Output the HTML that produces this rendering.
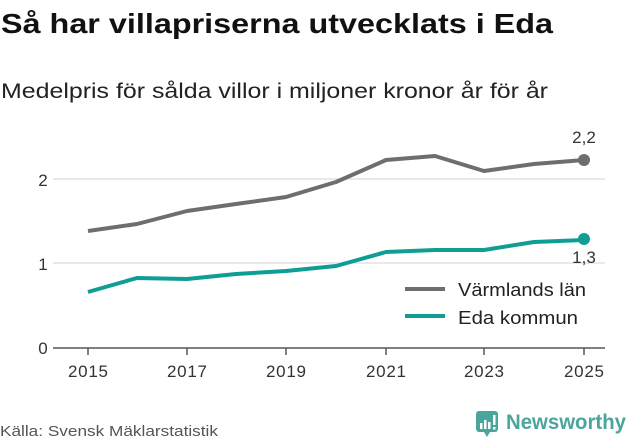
<!DOCTYPE html>
<html><head><meta charset="utf-8"><style>html,body{margin:0;padding:0;background:#fff}svg{display:block}</style></head>
<body>
<svg width="631" height="439" xmlns="http://www.w3.org/2000/svg" font-family="'Liberation Sans', 'DejaVu Sans', sans-serif">
<text x="1" y="33" font-size="28" font-weight="bold" fill="#111" textLength="552" lengthAdjust="spacingAndGlyphs">Så har villapriserna utvecklats i Eda</text>
<text x="1" y="98" font-size="21" fill="#222" textLength="547" lengthAdjust="spacingAndGlyphs">Medelpris för sålda villor i miljoner kronor år för år</text>
<g stroke="#e2e2e2" stroke-width="1.5">
<line x1="53" y1="179" x2="605" y2="179"/><line x1="53" y1="263" x2="605" y2="263"/>
</g>
<line x1="53" y1="348" x2="605" y2="348" stroke="#555" stroke-width="1.5"/>
<g stroke="#555" stroke-width="1.5">
<line x1="88" y1="348" x2="88" y2="355"/><line x1="187" y1="348" x2="187" y2="355"/><line x1="286" y1="348" x2="286" y2="355"/><line x1="386" y1="348" x2="386" y2="355"/><line x1="484" y1="348" x2="484" y2="355"/><line x1="584" y1="348" x2="584" y2="355"/>
</g>
<g font-size="17" fill="#333" text-anchor="middle">
<text x="88" y="377" textLength="40">2015</text><text x="187" y="377" textLength="40">2017</text><text x="286" y="377" textLength="40">2019</text><text x="386" y="377" textLength="40">2021</text><text x="484" y="377" textLength="40">2023</text><text x="584" y="377" textLength="40">2025</text>
<text x="43" y="186">2</text><text x="43" y="270">1</text><text x="43" y="354">0</text>
</g>
<polyline fill="none" stroke="#6e6d72" stroke-width="4" stroke-linejoin="round" points="88,231 137,224 187,211 236,204 286,197 336,182 386,160 435,156 484,171 534,164 584,160"/>
<circle cx="584" cy="160" r="6" fill="#6e6d72"/>
<polyline fill="none" stroke="#0f9e94" stroke-width="4" stroke-linejoin="round" points="88,292 137,278 187,279 236,274 286,271 336,266 386,252 435,250 484,250 534,242 584,240"/>
<circle cx="584" cy="239" r="6" fill="#0f9e94"/>
<g font-size="17" fill="#333" text-anchor="middle">
<text x="584" y="143">2,2</text><text x="584" y="263">1,3</text>
</g>
<line x1="405" y1="289" x2="445" y2="289" stroke="#6e6d72" stroke-width="4"/>
<line x1="405" y1="316" x2="445" y2="316" stroke="#0f9e94" stroke-width="4"/>
<g font-size="18" fill="#222">
<text x="458" y="296" textLength="128" lengthAdjust="spacingAndGlyphs">Värmlands län</text><text x="458" y="324" textLength="120" lengthAdjust="spacingAndGlyphs">Eda kommun</text>
</g>
<text x="0" y="436" font-size="15" fill="#555" textLength="218" lengthAdjust="spacingAndGlyphs">Källa: Svensk Mäklarstatistik</text>
<rect x="476" y="411" width="22" height="21" rx="3" fill="#4aa59c"/>
<polygon points="484,432 490,432 487,437" fill="#4aa59c"/>
<g fill="#fff"><rect x="480" y="423" width="2.5" height="6"/><rect x="484" y="420" width="2.5" height="9"/><rect x="488" y="422" width="2.5" height="7"/><rect x="493" y="415" width="2.5" height="10"/><rect x="493" y="427" width="2.5" height="2.5"/></g>
<text x="506" y="429" font-size="21" font-weight="bold" fill="#4aa59c" textLength="120" lengthAdjust="spacingAndGlyphs">Newsworthy</text>
</svg>
</body></html>
